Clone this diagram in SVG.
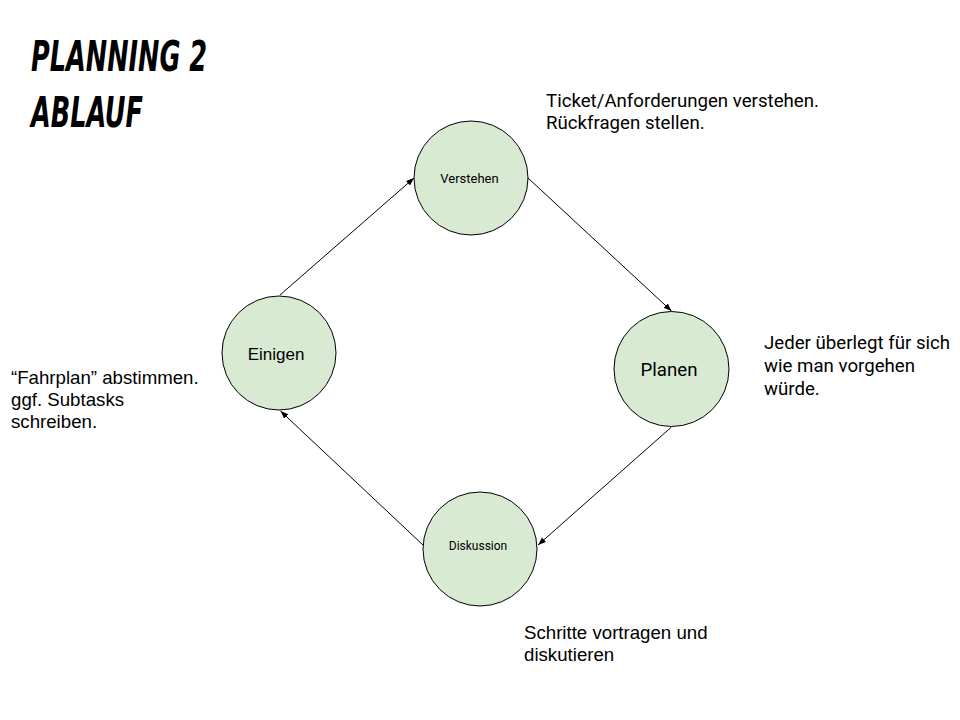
<svg xmlns="http://www.w3.org/2000/svg" width="960" height="720" viewBox="0 0 960 720">
  <style>
    .node { fill: #d9ead3; stroke: #000; stroke-width: 1; }
    .edge { fill: none; stroke: #000; stroke-width: 1; }
    .ro { font-family: Roboto, "Liberation Sans", sans-serif; fill: #000; }
    .ar { font-family: "Liberation Sans", Arial, sans-serif; fill: #000; }
    .title { font-family: "Liberation Sans Narrow", "DejaVu Sans Condensed", "Liberation Sans", sans-serif; font-weight: bold; font-style: italic; font-size: 42px; fill: #000; }
  </style>
  <defs>
    <marker id="arrow" markerUnits="userSpaceOnUse" markerWidth="9" markerHeight="7" refX="8" refY="3" orient="auto">
      <path d="M0,0 L8,3 L0,6 z" fill="#000"/>
    </marker>
  </defs>
  <rect width="960" height="720" fill="#fff"/>

  <g id="title">
    <text class="title" x="31" y="71" textLength="176" lengthAdjust="spacingAndGlyphs">PLANNING 2</text>
    <text class="title" x="31" y="127" textLength="112" lengthAdjust="spacingAndGlyphs">ABLAUF</text>
  </g>

  <g id="connectors">
    <line class="edge" x1="280" y1="295" x2="414" y2="178" marker-end="url(#arrow)"/>
    <line class="edge" x1="528" y1="178" x2="671.5" y2="311" marker-end="url(#arrow)"/>
    <line class="edge" x1="671.5" y1="427" x2="538" y2="545" marker-end="url(#arrow)"/>
    <line class="edge" x1="423" y1="545" x2="280.5" y2="411" marker-end="url(#arrow)"/>
  </g>

  <g id="verstehen">
    <circle class="node" cx="471" cy="178" r="57"/>
    <text class="ro" x="469.5" y="182.5" font-size="13" text-anchor="middle">Verstehen</text>
  </g>
  <g id="planen">
    <circle class="node" cx="671.5" cy="369" r="57.5"/>
    <text class="ro" x="669" y="376" font-size="18.67" text-anchor="middle">Planen</text>
  </g>
  <g id="diskussion">
    <circle class="node" cx="480" cy="549" r="57"/>
    <text class="ro" x="478" y="550" font-size="12" text-anchor="middle">Diskussion</text>
  </g>
  <g id="einigen">
    <circle class="node" cx="279" cy="353" r="57"/>
    <text class="ar" x="276" y="360" font-size="17" text-anchor="middle">Einigen</text>
  </g>

  <g id="note-verstehen">
    <text class="ro" font-size="18.67"><tspan x="546" y="107">Ticket/Anforderungen verstehen.</tspan><tspan x="546" y="129">Rückfragen stellen.</tspan></text>
  </g>
  <g id="note-planen">
    <text class="ro" font-size="18.67"><tspan x="764" y="349">Jeder überlegt für sich</tspan><tspan x="764" y="372">wie man vorgehen</tspan><tspan x="764" y="395">würde.</tspan></text>
  </g>
  <g id="note-einigen">
    <text class="ar" font-size="18.67"><tspan x="11" y="384">“Fahrplan” abstimmen.</tspan><tspan x="11" y="406">ggf. Subtasks</tspan><tspan x="11" y="428">schreiben.</tspan></text>
  </g>
  <g id="note-diskussion">
    <text class="ar" font-size="18.67"><tspan x="524" y="639">Schritte vortragen und</tspan><tspan x="524" y="661">diskutieren</tspan></text>
  </g>
</svg>
